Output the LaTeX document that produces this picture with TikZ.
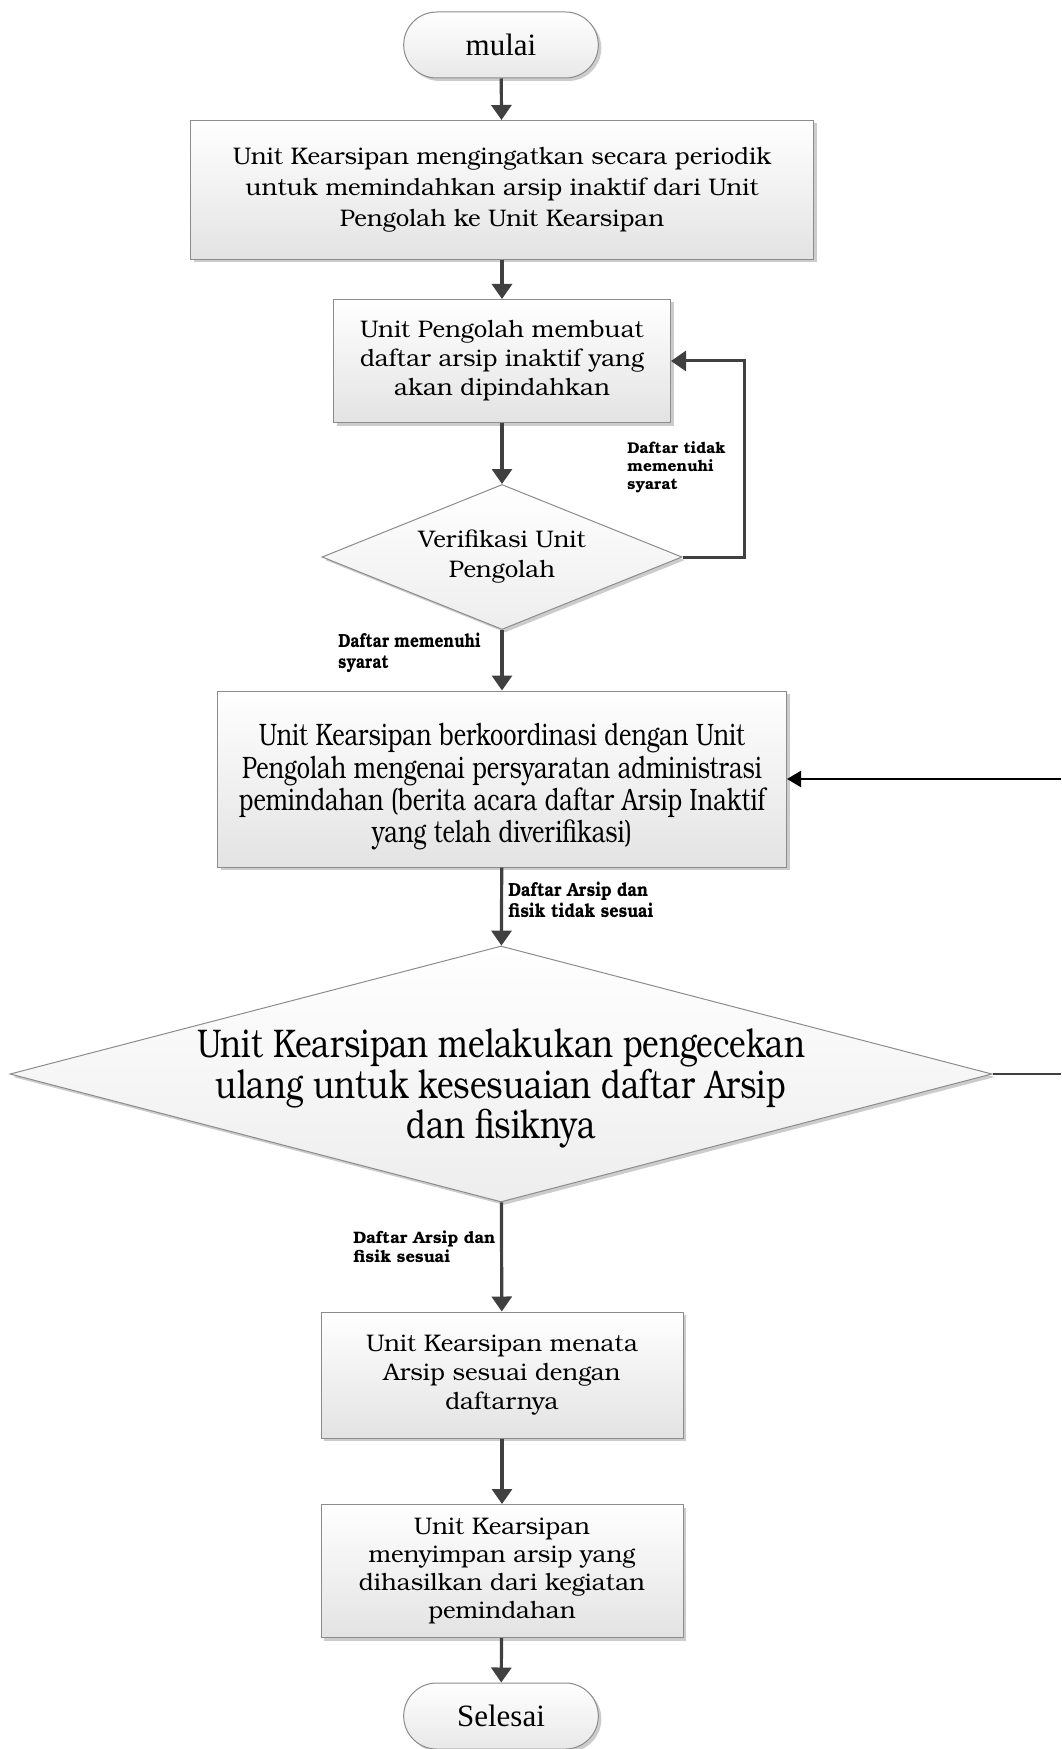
\documentclass[tikz,border=0pt]{standalone}
\usepackage{fontspec}
\setmainfont{texgyrebonum}[Extension=.otf,UprightFont=*-regular,BoldFont=*-bold,ItalicFont=*-italic,BoldItalicFont=*-bolditalic]
\newfontfamily\timesfont{Liberation Serif}
\usepackage{graphicx}
\usetikzlibrary{shapes.geometric,shapes.misc,shadows,arrows.meta}

\definecolor{garis}{HTML}{404040}
\definecolor{tepi}{HTML}{8C8C8C}

%% squeezed text (lines of a tabular, scaled in x)
\newcommand{\sempit}[3][c]{\scalebox{#2}[1]{\begin{tabular}{@{}#1@{}}#3\end{tabular}}}
%% text of no size, lowered by #1 (the shape then keeps its minimum size)
\newcommand{\tengah}[2]{\makebox[0pt]{\raisebox{#1}[0pt][0pt]{#2}}}

\tikzstyle{bayang}=[drop shadow={shadow xshift=1.5pt,shadow yshift=-1.5pt,fill=black!25,opacity=0.8}]
\tikzstyle{proses}=[rectangle,draw=tepi,line width=0.5pt,top color=white,bottom color=black!11,bayang,align=center,inner sep=0pt,font=\fontsize{12}{14.5}\selectfont]
\tikzstyle{keputusan}=[diamond,draw=tepi,line width=0.5pt,top color=white,bottom color=black!7,bayang,align=center,inner sep=0pt,font=\fontsize{12}{15}\selectfont]
\tikzstyle{terminal}=[rounded rectangle,draw=tepi,line width=0.5pt,top color=white,bottom color=black!9,bayang,minimum width=104pt,minimum height=33pt,font=\timesfont\fontsize{15.5}{18}\selectfont]
\tikzstyle{panah}=[draw=garis,line width=1.6pt,-{Triangle[width=10pt,length=7.5pt]}]
\tikzstyle{ket}=[inner sep=0pt,align=left,anchor=north west,font=\bfseries\fontsize{7.8}{9}\selectfont]

\begin{document}
\begin{tikzpicture}[x=0.5pt,y=-0.5pt]
        \useasboundingbox (0,0) rectangle (1061,1749);

        %% The main column
        \node[terminal] (mulai) at (501,45) {mulai};
        \node[proses,minimum width=311.5pt,minimum height=69.5pt,font=\fontsize{12}{15.5}\selectfont] (ingat) at (502,190)
            {Unit Kearsipan mengingatkan secara periodik\\untuk memindahkan arsip inaktif dari Unit\\Pengolah ke Unit Kearsipan};
        \node[proses,minimum width=168.5pt,minimum height=61.5pt] (daftar) at (502,361)
            {Unit Pengolah membuat\\daftar arsip inaktif yang\\akan dipindahkan};
        \node[keputusan,minimum width=180pt,minimum height=72.5pt,aspect=2.5] (verif) at (502,557)
            {Verifikasi Unit\\Pengolah};
        \node[proses,minimum width=284.5pt,minimum height=88pt,font=\fontsize{15.5}{16.2}\selectfont] (koord) at (502,779)
            {\tengah{-8pt}{\sempit{0.76}{Unit Kearsipan berkoordinasi dengan Unit\\Pengolah mengenai persyaratan administrasi\\pemindahan (berita acara daftar Arsip Inaktif\\yang telah diverifikasi)}}};
        \node[keputusan,minimum width=491pt,minimum height=128pt,font=\fontsize{20}{18.7}\selectfont] (cek) at (501,1074)
            {\tengah{-13pt}{\sempit{0.79}{Unit Kearsipan melakukan pengecekan\\ulang untuk kesesuaian daftar Arsip\\dan fisiknya}}};
        \node[proses,minimum width=181pt,minimum height=63pt] (tata) at (502,1375)
            {Unit Kearsipan menata\\Arsip sesuai dengan\\daftarnya};
        \node[proses,minimum width=181pt,minimum height=66.5pt,font=\fontsize{12}{14}\selectfont] (simpan) at (502,1571)
            {Unit Kearsipan\\menyimpan arsip yang\\dihasilkan dari kegiatan\\pemindahan};
        \node[terminal] (selesai) at (501,1716) {Selesai};

        %% Labels of the branches
        \node[ket] (ketTidak) at (627,441) {Daftar tidak\\memenuhi\\syarat};
        \node[ket,font=\bfseries\fontsize{9.5}{10.6}\selectfont] (ketMemenuhi) at (338,632)
            {\sempit[l]{0.82}{Daftar memenuhi\\syarat}};
        \node[ket,font=\bfseries\fontsize{9.5}{9.5}\selectfont] (ketTidakSesuai) at (508,882)
            {\sempit[l]{0.86}{Daftar Arsip dan\\fisik tidak sesuai}};
        \node[ket,font=\bfseries\fontsize{8.3}{9.5}\selectfont] (ketSesuai) at (353,1230) {Daftar Arsip dan\\fisik sesuai};

        %% Connectors
        \draw[panah] (mulai) -- (ingat);
        \draw[panah] (ingat) -- (daftar);
        \draw[panah] (daftar) -- (verif);
        \draw[panah,line width=1.5pt] (verif.east) -- ++(62,0) |- (daftar.east);
        \draw[panah] (verif) -- (koord);
        \draw[panah] (koord) -- (cek);
        \draw[panah] (cek) -- (tata);
        \draw[panah] (tata) -- (simpan);
        \draw[panah] (simpan) -- (selesai);

        %% Loop back from the check, leaving the page on the right
        \coordinate (kananA) at (1061,1074);
        \coordinate (kananB) at (1061,779);
        \draw[garis,line width=1.2pt] (cek.east) -- (kananA);
        \draw[black,line width=1pt,-{Triangle[width=8pt,length=7pt]}] (kananB) -- (koord.east);
    \end{tikzpicture}
\end{document}
